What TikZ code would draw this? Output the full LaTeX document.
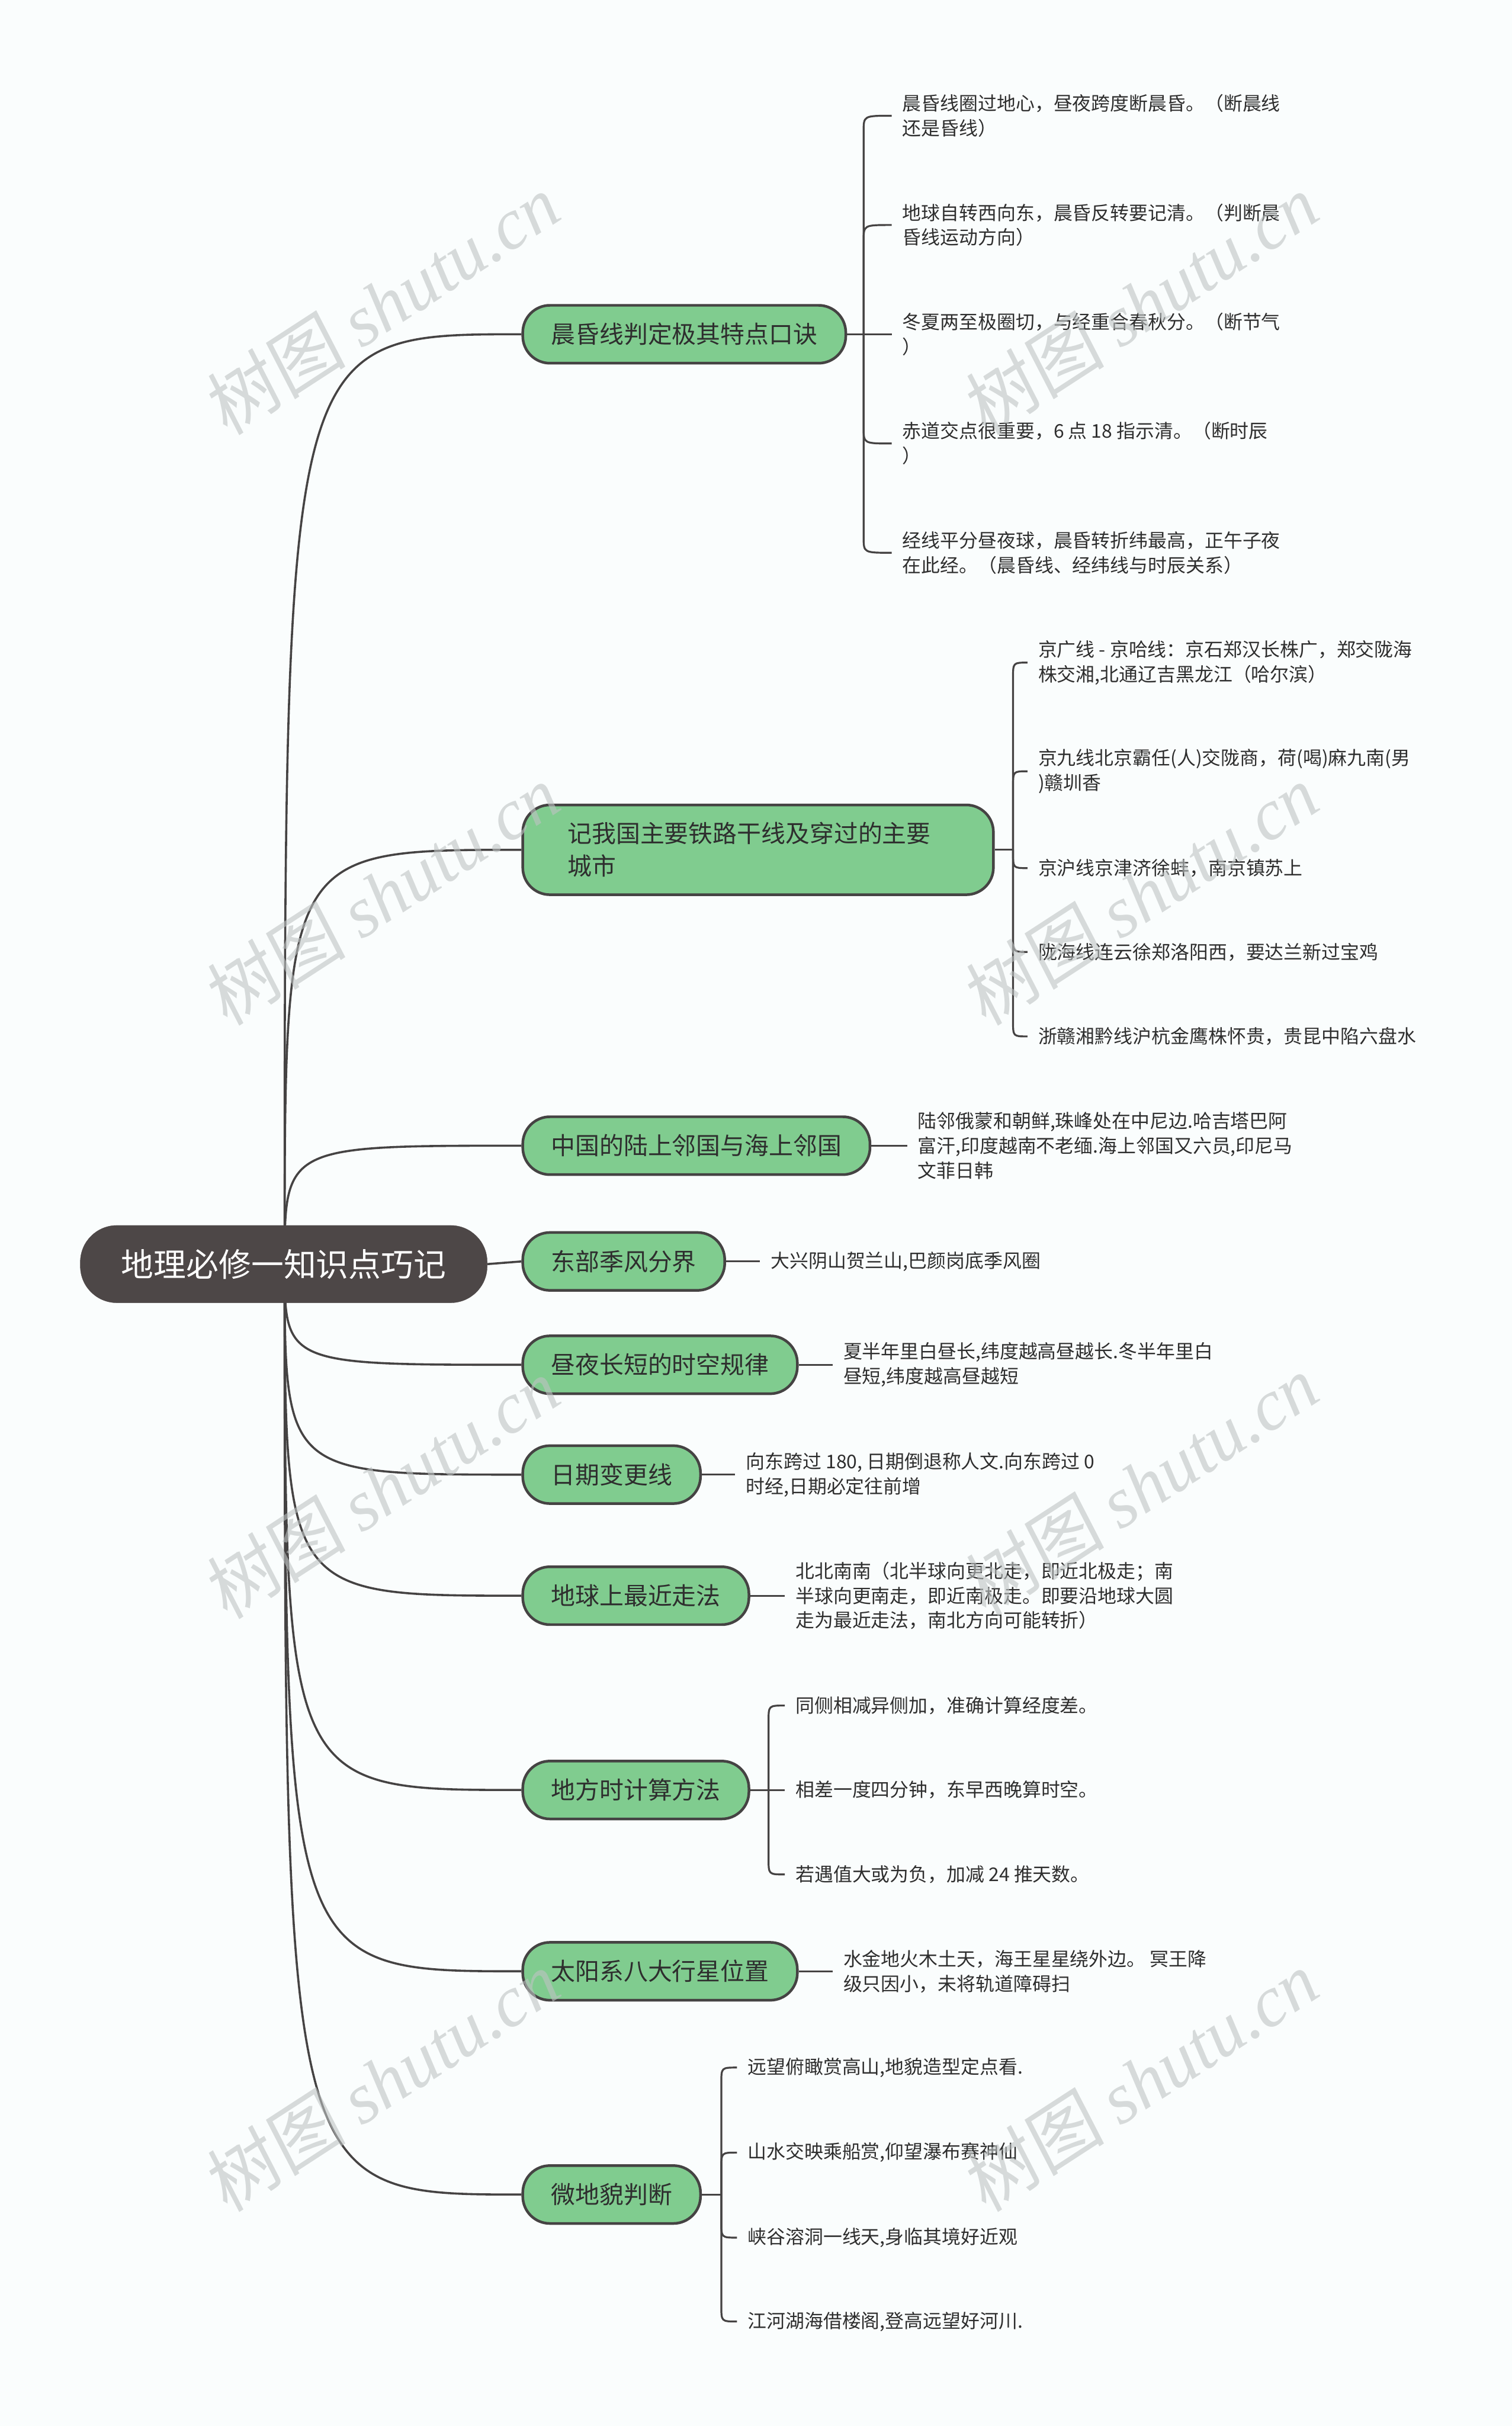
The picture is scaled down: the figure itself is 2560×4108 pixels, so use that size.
\documentclass[tikz,border=0pt]{standalone}
\usepackage{fontspec}
\setmainfont{Noto Sans CJK SC}
\newfontfamily\wmcjk[FakeSlant=0.1]{Noto Sans CJK SC}
\newfontfamily\wmlatin{Liberation Serif}
\usetikzlibrary{calc,backgrounds}
\definecolor{greenC}{HTML}{80CC8F}
\definecolor{lineC}{HTML}{454343}
\definecolor{rootC}{HTML}{4D4747}
\definecolor{bgC}{HTML}{FAFDFD}
\definecolor{wmC}{HTML}{BEC3C3}
\definecolor{txtC}{HTML}{2E2E2E}
\begin{document}
\begin{tikzpicture}[x=1pt,y=-1pt,
  rootbox/.style={draw=rootC, fill=rootC, rounded corners=62pt, minimum width=689pt, minimum height=131pt, text=white, font=\fontsize{55}{66}\selectfont},
  mainbox/.style={draw=lineC, line width=4.5pt, fill=greenC, rounded corners=46pt, minimum height=98pt, inner xsep=48pt, text=txtC, anchor=west, font=\fontsize{41}{55}\selectfont},
  leaf/.style={anchor=west, inner xsep=18pt, inner ysep=0pt, align=left, text=txtC, font=\fontsize{32}{42}\selectfont},
  conn/.style={draw=lineC, line width=3.6pt},
  lconn/.style={draw=lineC, line width=3.2pt},
  wm/.style={text=wmC, text opacity=0.6, rotate=33, font=\fontsize{122}{130}\selectfont}
]
\useasboundingbox (0,0) rectangle (2560,4108);

% root and main nodes
\node[rootbox] (root) at (480.5,2140.5) {地理必修一知识点巧记};
\node[mainbox] (n1) at (883,566) {晨昏线判定极其特点口诀};
\node[mainbox, minimum height=152pt, inner xsep=76pt, text width=645pt, align=left] (n2) at (883,1439) {记我国主要铁路干线及穿过的主要\\城市};
\node[mainbox] (n3) at (883,1940) {中国的陆上邻国与海上邻国};
\node[mainbox] (n4) at (883,2136) {东部季风分界};
\node[mainbox] (n5) at (883,2311) {昼夜长短的时空规律};
\node[mainbox] (n6) at (883,2497) {日期变更线};
\node[mainbox] (n7) at (883,2702) {地球上最近走法};
\node[mainbox] (n8) at (883,3031) {地方时计算方法};
\node[mainbox] (n9) at (883,3338) {太阳系八大行星位置};
\node[mainbox] (n10) at (883,3716) {微地貌判断};

% leaves
\node[leaf] (l11) at (1510,196) {晨昏线圈过地心，昼夜跨度断晨昏。（断晨线\\还是昏线）};
\node[leaf] (l12) at (1510,381) {地球自转西向东，晨昏反转要记清。（判断晨\\昏线运动方向）};
\node[leaf] (l13) at (1510,566) {冬夏两至极圈切，与经重合春秋分。（断节气\\）};
\node[leaf] (l14) at (1510,751) {赤道交点很重要，6 点 18 指示清。（断时辰\\）};
\node[leaf] (l15) at (1510,936) {经线平分昼夜球，晨昏转折纬最高，正午子夜\\在此经。（晨昏线、经纬线与时辰关系）};

\node[leaf] (l21) at (1740,1122) {京广线 - 京哈线：京石郑汉长株广，郑交陇海\\株交湘,北通辽吉黑龙江（哈尔滨）};
\node[leaf] (l22) at (1740,1306) {京九线北京霸任(人)交陇商，荷(喝)麻九南(男\\)赣圳香};
\node[leaf] (l23) at (1740,1470) {京沪线京津济徐蚌，南京镇苏上};
\node[leaf] (l24) at (1740,1612) {陇海线连云徐郑洛阳西，要达兰新过宝鸡};
\node[leaf] (l25) at (1740,1755) {浙赣湘黔线沪杭金鹰株怀贵，贵昆中陷六盘水};

\node[leaf] (l3) at (1536,1940) {陆邻俄蒙和朝鲜,珠峰处在中尼边.哈吉塔巴阿\\富汗,印度越南不老缅.海上邻国又六员,印尼马\\文菲日韩};
\node[leaf] (l4) at (1287,2136) {大兴阴山贺兰山,巴颜岗底季风圈};
\node[leaf] (l5) at (1410,2311) {夏半年里白昼长,纬度越高昼越长.冬半年里白\\昼短,纬度越高昼越短};
\node[leaf] (l6) at (1245,2497) {向东跨过 180, 日期倒退称人文.向东跨过 0\\时经,日期必定往前增};
\node[leaf] (l7) at (1329,2702) {北北南南（北半球向更北走，即近北极走；南\\半球向更南走，即近南极走。即要沿地球大圆\\走为最近走法，南北方向可能转折）};

\node[leaf] (l81) at (1329,2888) {同侧相减异侧加，准确计算经度差。};
\node[leaf] (l82) at (1329,3031) {相差一度四分钟，东早西晚算时空。};
\node[leaf] (l83) at (1329,3174) {若遇值大或为负，加减 24 推天数。};

\node[leaf] (l9) at (1410,3338) {水金地火木土天，海王星星绕外边。 冥王降\\级只因小，未将轨道障碍扫};

\node[leaf] (l101) at (1248,3501) {远望俯瞰赏高山,地貌造型定点看.};
\node[leaf] (l102) at (1248,3645) {山水交映乘船赏,仰望瀑布赛神仙};
\node[leaf] (l103) at (1248,3789) {峡谷溶洞一线天,身临其境好近观};
\node[leaf] (l104) at (1248,3931) {江河湖海借楼阁,登高远望好河川.};

\begin{scope}[on background layer]
\fill[bgC] (0,0) rectangle (2560,4108);
\coordinate (J) at (482,2141);
\foreach \n in {n1,n2,n3,n5,n6,n7,n8,n9,n10}{
  \draw[conn] (J) .. controls (J |- \n.west) .. (\n.west);
}
\draw[conn] (root.east) -- (n4.west);
% single leaves
\draw[lconn] (n3.east) -- (l3.west);
\draw[lconn] (n4.east) -- (l4.west);
\draw[lconn] (n5.east) -- (l5.west);
\draw[lconn] (n6.east) -- (l6.west);
\draw[lconn] (n7.east) -- (l7.west);
\draw[lconn] (n9.east) -- (l9.west);
% trunks
\coordinate (t1) at ($(n1.east)+(28,0)$);
\coordinate (t2) at ($(n2.east)+(31,0)$);
\coordinate (t8) at ($(n8.east)+(31,0)$);
\coordinate (t10) at ($(n10.east)+(33,0)$);
\draw[lconn] (n1.east) -- (t1);
\draw[lconn] (n2.east) -- (t2);
\draw[lconn] (n8.east) -- (t8);
\draw[lconn] (n10.east) -- (t10);
% up leaves
\foreach \t/\l in {t1/l11,t1/l12,t2/l21,t2/l22,t8/l81,t10/l101,t10/l102}{
  \draw[lconn] (\t) -- ($(\t |- \l.west)+(0,26)$) .. controls (\t |- \l.west) .. (\l.west);
}
% down leaves
\foreach \t/\l in {t1/l14,t1/l15,t2/l23,t2/l24,t2/l25,t8/l83,t10/l103,t10/l104}{
  \draw[lconn] (\t) -- ($(\t |- \l.west)+(0,-26)$) .. controls (\t |- \l.west) .. (\l.west);
}
\draw[lconn] (t1) -- (l13.west);
\draw[lconn] (t8) -- (l82.west);
\end{scope}

% watermarks
\foreach \p/\q in {645/515,1930/515,645/1515,1930/1515,645/2520,1930/2515,645/3524,1930/3524}{
  \node[wm] (w\p-\q) at (\p,\q) {{\wmcjk 树图} {\wmlatin\itshape shutu.cn}};
}
\end{tikzpicture}
\end{document}
